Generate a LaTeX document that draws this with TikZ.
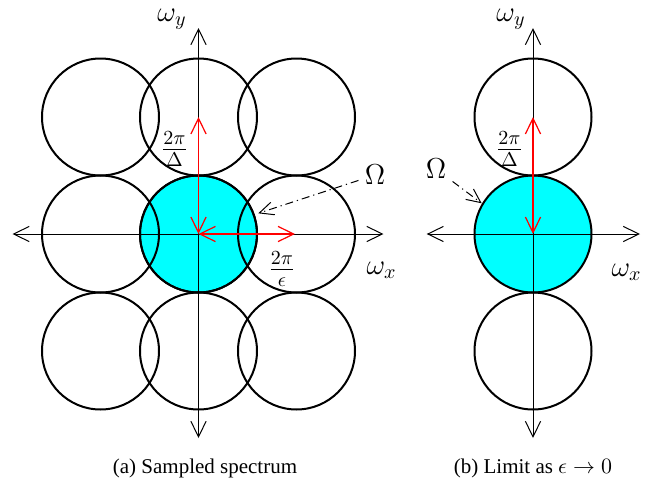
\documentclass[tikz,border=0pt]{standalone}
\usepackage[no-math]{fontspec}
\setmainfont{Liberation Serif}
\usetikzlibrary{positioning,arrows.meta}
\definecolor{bandcyan}{RGB}{0,255,255}

\begin{document}
\begin{tikzpicture}[
            x=0.5pt, y=0.5pt,
            disc/.style={circle, draw, line width=1pt, minimum size=58.5pt, inner sep=0pt},
            axis/.style={{Straight Barb[length=7.8pt,width=7.6pt]}-{Straight Barb[length=7.8pt,width=7.6pt]}, line width=0.5pt},
            period/.style={axis, red, line width=0.6pt},
            pointer/.style={-{Straight Barb[length=7pt,width=6.5pt]}, line width=0.5pt, dash pattern=on 4pt off 2pt on 0.6pt off 2pt},
            lab/.style={font=\Large, inner sep=3pt},
            axlab/.style={font=\Large, inner sep=1pt},
            caption/.style={font=\fontsize{10.5}{12}\selectfont, anchor=base}
        ]
            \useasboundingbox (-198.5,-249) rectangle (455.5,234);
            % (a) sampled spectrum
            \node[disc, fill=bandcyan] (amc) at (0,0) {};
            \foreach \x/\col in {-98/l,0/m,98/r} {
                \foreach \y/\row in {117/t,0/c,-117/b} {
                    \node[disc] (a\col\row) at (\x,\y) {};
                }
            }
            \coordinate (ao) at (0,0);
            \coordinate (axl) at (-186,0);
            \coordinate (axr) at (185,0);
            \coordinate (ayb) at (0,-204);
            \coordinate (ayt) at (0,206);
            \draw[axis] (axl) -- (axr);
            \draw[axis] (ayb) -- (ayt);
            \coordinate (adx) at (96.5,0);
            \coordinate (ady) at (0,117);
            \draw[period] (ao) -- (adx);
            \draw[period] (ao) -- (ady);
            \node[axlab] (awy) at (-26.5,215) {$\omega_y$};
            \node[axlab] (awx) at (183,-36) {$\omega_x$};
            \node[lab] (adel) at (-24,85) {$\frac{2\pi}{\Delta}$};
            \node[lab] (aeps) at (83.5,-35) {$\frac{2\pi}{\epsilon}$};
            \node[lab] (aom) at (176.5,59) {$\Omega$};
            \coordinate (aomtip) at (59.8,20.7);
            \draw[pointer] (aom) -- (aomtip);
            \node[caption] (acap) at (6.5,-239) {(a) Sampled spectrum};

            % (b) limit
            \node[disc, fill=bandcyan] (bc) at (334.5,0) {};
            \node[disc] (bt) at (334.5,117) {};
            \node[disc] (bb) at (334.5,-117) {};
            \coordinate (bo) at (334.5,0);
            \coordinate (bxl) at (228.2,0);
            \coordinate (bxr) at (441.5,0);
            \coordinate (byb) at (334.5,-204);
            \coordinate (byt) at (334.5,206);
            \draw[axis] (bxl) -- (bxr);
            \draw[axis] (byb) -- (byt);
            \coordinate (bdy) at (334.5,117);
            \draw[period] (bo) -- (bdy);
            \node[axlab] (bwy) at (312.5,215) {$\omega_y$};
            \node[axlab] (bwx) at (428,-38) {$\omega_x$};
            \node[lab] (bdel) at (311,85) {$\frac{2\pi}{\Delta}$};
            \node[lab] (bom) at (237.5,65) {$\Omega$};
            \coordinate (bomtip) at (283.2,30.7);
            \draw[pointer] (bom) -- (bomtip);
            \node[caption] (bcap) at (334.5,-239) {(b) Limit as $\epsilon\to0$};
        \end{tikzpicture}
\end{document}
